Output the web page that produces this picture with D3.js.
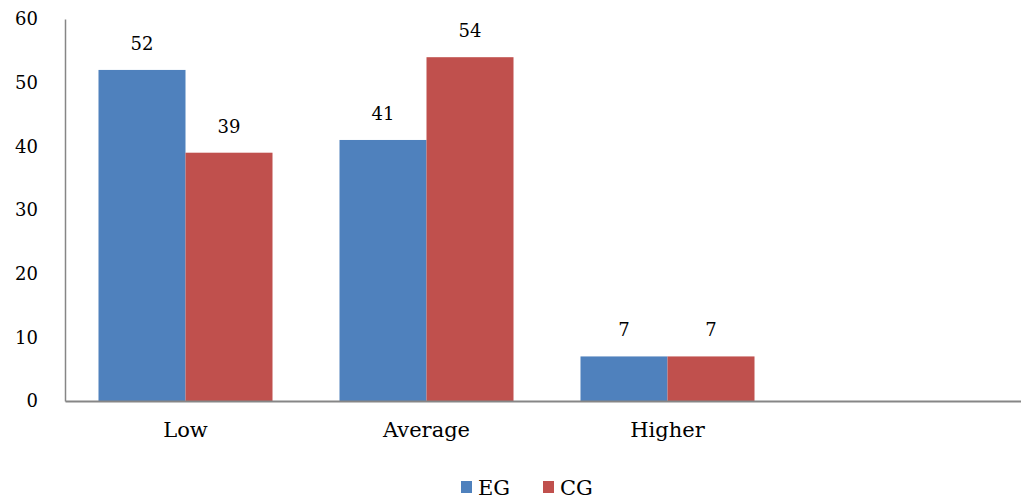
<!DOCTYPE html>
<html>
<head>
<meta charset="utf-8">
<script src="https://cdn.jsdelivr.net/npm/d3@7"></script>
<style>
  body { margin: 0; background: #fff; }
  text { font-family: "DejaVu Serif", "Liberation Serif", serif; fill: #000; }
</style>
</head>
<body>
<div id="chart"></div>
<script>
// data
const categories = ["Low", "Average", "Higher"];
const seriesNames = ["EG", "CG"];
const egValues = [52, 41, 7];
const cgValues = [39, 54, 7];
const yTicks = [0, 10, 20, 30, 40, 50, 60];

const colors = { "EG": "#4F81BD", "CG": "#C0504D" };

const width = 1021, height = 500;
const margin = { top: 19, right: -8, bottom: 99, left: 65 };

const svg = d3.select("#chart")
    .append("svg")
    .attr("width", width)
    .attr("height", height);

// 4 slots on the axis, the last one is empty
const slots = categories.concat([" "]);

const x0 = d3.scaleBand()
    .domain(slots)
    .range([margin.left, width - margin.right])
    .padding(0);

const x1 = d3.scaleBand()
    .domain(seriesNames)
    .range([0, x0.bandwidth()])
    .paddingInner(0)
    .paddingOuter(0.385);

const y = d3.scaleLinear()
    .domain([0, 60])
    .range([height - margin.bottom, margin.top]);

const rows = categories.map((c, i) => ({
    cat: c,
    vals: [{ key: "EG", v: egValues[i] }, { key: "CG", v: cgValues[i] }]
}));

// bars
const groups = svg.selectAll("g.grp")
    .data(rows)
    .enter().append("g")
    .attr("class", "grp")
    .attr("transform", d => `translate(${x0(d.cat)},0)`);

groups.selectAll("rect")
    .data(d => d.vals)
    .enter().append("rect")
    .attr("x", d => x1(d.key))
    .attr("y", d => y(d.v))
    .attr("width", x1.bandwidth())
    .attr("height", d => y(0) - y(d.v))
    .attr("fill", d => colors[d.key]);

groups.selectAll("text.lbl")
    .data(d => d.vals)
    .enter().append("text")
    .attr("class", "lbl")
    .attr("x", d => x1(d.key) + x1.bandwidth() / 2)
    .attr("y", d => y(d.v) - 20)
    .attr("text-anchor", "middle")
    .attr("font-size", 18)
    .text(d => d.v);

// axes
const yAxis = svg.append("g")
    .attr("transform", `translate(${margin.left},0)`)
    .call(d3.axisLeft(y).tickValues(yTicks).tickSize(0).tickPadding(27));
yAxis.select(".domain").attr("stroke", "#868686").attr("stroke-width", 1.5);
yAxis.selectAll("text").attr("font-size", 18).attr("font-family", "DejaVu Serif");

const xAxis = svg.append("g")
    .attr("transform", `translate(0,${y(0)})`)
    .call(d3.axisBottom(x0).tickSize(0).tickPadding(21));
xAxis.select(".domain").attr("stroke", "#868686").attr("stroke-width", 2);
xAxis.selectAll("text").attr("font-size", 21).attr("font-family", "DejaVu Serif");

// legend
const legend = svg.append("g").attr("transform", "translate(461,488)");
const legendX = d3.scalePoint().domain(seriesNames).range([0, 82]);
const items = legend.selectAll("g")
    .data(seriesNames)
    .enter().append("g")
    .attr("transform", d => `translate(${legendX(d)},0)`);
items.append("rect")
    .attr("x", 0).attr("y", -7)
    .attr("width", 11).attr("height", 12)
    .attr("fill", d => colors[d]);
items.append("text")
    .attr("x", 17).attr("y", 0)
    .attr("dy", "0.35em")
    .attr("font-size", 21)
    .text(d => d);
</script>
</body>
</html>
